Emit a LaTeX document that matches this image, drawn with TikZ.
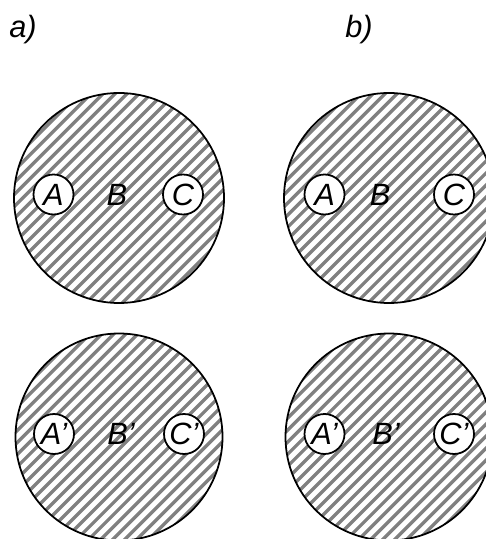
\documentclass[tikz,border=0pt]{standalone}
\usepackage{fontspec}
\setmainfont{Liberation Sans}
\usepackage{tikz}
\definecolor{hatchgray}{RGB}{128,128,128}
\tikzset{
  disc/.style={circle, draw=black, line width=1pt, minimum size=4.2cm, inner sep=0pt},
  hatch/.style={draw=hatchgray, line width=1.9pt},
  port/.style={circle, draw=black, fill=white, line width=1pt, minimum size=0.8cm,
    inner sep=0pt, font=\fontsize{17.5}{20}\selectfont\itshape},
  tag/.style={inner sep=0pt, font=\fontsize{17.5}{20}\selectfont\itshape}
}
\newcommand{\hatchdisc}[2]{%
  \begin{scope}[shift={(#1)}, rotate=45]
    \clip (0,0) circle (#2);
    \foreach \k in {-13,...,13}
      \draw[hatch] (-2.3,\k*0.17) -- (2.3,\k*0.17);
  \end{scope}}
\begin{document}
\begin{tikzpicture}
  \useasboundingbox (0,0) rectangle (9.7,-10.78);

  % case labels
  \node[tag] (capa) at (0.46,-0.6) {a)};
  \node[tag] (capb) at (7.18,-0.6) {b)};

  % case a), upper disc
  \hatchdisc{2.38,-3.96}{2.1}
  \node[disc] (upa) at (2.38,-3.96) {};
  \node[port] (upaA) at (1.07,-3.89) {A};
  \node[tag] (upaB) at (2.34,-3.89) {B};
  \node[port] (upaC) at (3.66,-3.89) {C};

  % case b), upper disc
  \hatchdisc{7.78,-3.96}{2.1}
  \node[disc] (upb) at (7.78,-3.96) {};
  \node[port] (upbA) at (6.49,-3.89) {A};
  \node[tag] (upbB) at (7.6,-3.89) {B};
  \node[port] (upbC) at (9.08,-3.89) {C};

  % case a), lower disc
  \hatchdisc{2.38,-8.74}{2.07}
  \node[disc, minimum size=4.14cm] (loa) at (2.38,-8.74) {};
  \node[port] (loaA) at (1.08,-8.68) {A’};
  \node[tag] (loaB) at (2.42,-8.68) {B’};
  \node[port] (loaC) at (3.68,-8.68) {C’};

  % case b), lower disc
  \hatchdisc{7.78,-8.74}{2.07}
  \node[disc, minimum size=4.14cm] (lob) at (7.78,-8.74) {};
  \node[port] (lobA) at (6.49,-8.68) {A’};
  \node[tag] (lobB) at (7.72,-8.68) {B’};
  \node[port] (lobC) at (9.08,-8.68) {C’};
\end{tikzpicture}
\end{document}
